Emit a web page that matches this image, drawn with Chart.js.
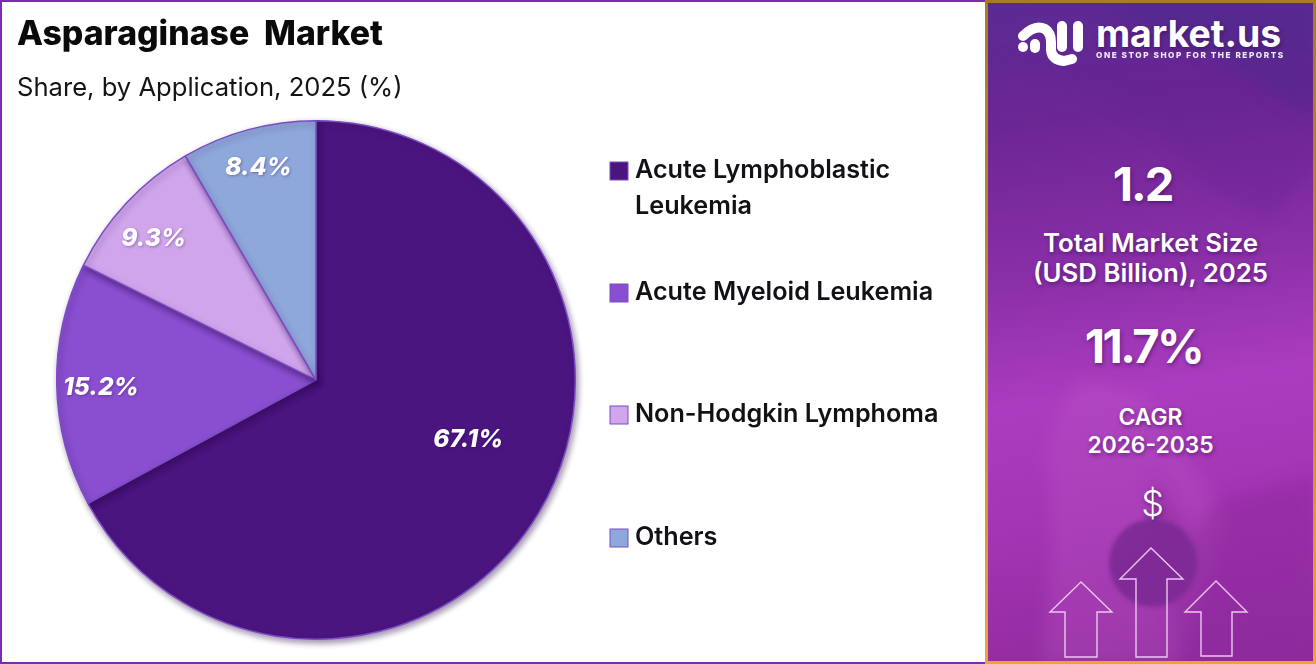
<!DOCTYPE html>
<html><head><meta charset="utf-8">
<script src="https://cdn.jsdelivr.net/npm/chart.js@4"></script>
<style>
html,body{margin:0;padding:0;background:#fff;overflow:hidden}
#wrap{position:relative;width:1316px;height:664px;overflow:hidden;font-family:Inter,sans-serif}
#left{position:absolute;left:0;top:0;width:985px;height:664px;box-sizing:border-box;border:2px solid #7a2bb0;border-right:none}
#cv{position:absolute;left:0;top:0;width:985px;height:664px}
#panel{position:absolute;left:985px;top:0;width:331px;height:664px;box-sizing:border-box;border:3px solid;border-image:linear-gradient(180deg,#a87c20,#c48a24 50%,#f2a32e) 1;overflow:hidden;color:#fff;
background:linear-gradient(172deg,#5a2a92 0%,#6c2694 18%,#8a2fa8 40%,#ab3cbf 58%,#a435b4 75%,#8e2a9c 100%)}
#panel svg.bg,#panel svg.fg{position:absolute;left:-3px;top:-3px;width:331px;height:664px}
.t{position:absolute;left:-3px;width:331px;text-align:center;white-space:nowrap;text-shadow:1px 2px 4px rgba(50,10,80,.55);line-height:1;transform:translateY(-50%)}
</style></head><body>
<div id="wrap">
<div id="left"></div>
<canvas id="cv" width="985" height="664"></canvas>
<div id="panel">
<svg class="bg" viewBox="985 0 331 664">
<defs><filter id="b"><feGaussianBlur stdDeviation="8"/></filter><filter id="b2"><feGaussianBlur stdDeviation="2"/></filter></defs>
<path d="M1090 0 L1316 0 L1316 120 L1220 60 Z" fill="#4c2a8c" opacity=".5" filter="url(#b)"/>
<path d="M985 60 Q1110 70 1210 190 L1270 220 L1316 170 L1316 60 Z" fill="#5e2090" opacity=".25" filter="url(#b)"/>
<path d="M1040 664 Q1060 520 1045 460 Q1060 390 1090 380 L1150 400 L1230 520 L1180 664 Z" fill="#c060c8" opacity=".25" filter="url(#b)"/>
<path d="M1150 470 L1195 540 L1215 500 L1316 475 L1316 664 L1180 664 Z" fill="#8f2a9e" opacity=".55" filter="url(#b)"/>
<circle cx="1153" cy="563" r="44" fill="#7e2a96" opacity=".95" filter="url(#b2)"/>
</svg>
<svg class="fg" viewBox="985 0 331 664" fill="none">
<g stroke="#fff" stroke-width="10" stroke-linecap="round" stroke-linejoin="round">
<path d="M1023 36 Q1035 24 1045 29 Q1051 33 1051 42 V50 Q1052 60 1064 61 L1072 59"/>
<path d="M1035 48 V44"/>
<path d="M1062 26 V47"/>
<path d="M1078 26 V47"/>
</g>
<circle cx="1023" cy="47" r="5" fill="#fff"/>
<g stroke="#eec6f2" stroke-width="1.4">
<path d="M1065 657 V612 H1050 L1081 582 L1112 612 H1097 V657 Z"/>
<path d="M1136 657 V579 H1120 L1151 548 L1183 579 H1167 V657 Z"/>
<path d="M1201 656 V612 H1185 L1216 581 L1247 612 H1232 V656 Z"/>
</g>
</svg>
<div class="t" style="left:108px;width:auto;top:31px;font-size:37.4px;font-weight:700">market.us</div>
<div class="t" style="left:108px;width:auto;top:52px;font-size:8.2px;font-weight:800;letter-spacing:1.55px;text-shadow:none;opacity:.9">ONE STOP SHOP FOR THE REPORTS</div>
<div class="t" style="left:-11px;top:180px;font-size:47px;font-weight:700;letter-spacing:-2px">1.2</div>
<div class="t" style="top:240px;font-size:25.8px;font-weight:600">Total Market Size</div>
<div class="t" style="top:270px;font-size:25.8px;font-weight:600">(USD Billion), 2025</div>
<div class="t" style="left:-10px;top:342px;font-size:47px;font-weight:700;letter-spacing:-2.5px">11.7%</div>
<div class="t" style="top:414px;font-size:22.8px;font-weight:600">CAGR</div>
<div class="t" style="top:442px;font-size:22.8px;font-weight:600">2026-2035</div>
<div class="t" style="left:-1px;top:500px;font-size:36px;font-weight:300">$</div>
</div>
</div>
<script>
const titleText = "Asparaginase  Market";
const subtitleText = "Share, by Application, 2025 (%)";
const categories = ["Acute Lymphoblastic Leukemia","Acute Myeloid Leukemia","Non-Hodgkin Lymphoma","Others"];
const legendLines = [["Acute Lymphoblastic","Leukemia"],["Acute Myeloid Leukemia"],["Non-Hodgkin Lymphoma"],["Others"]];
const shares = [67.1,15.2,9.3,8.4];
const sliceColors = ["#4b1580","#8a4fd0","#d0a5ec","#8fa8dc"];
const edgeColor = "#7b4cc4";
const labelRadial = [0.63,0.83,0.83,0.85];
const labelAngleShift = [-9.5,-1,-2,0];
const legendRows = [171,293,415,538];

const pieShadow = {
  id:'pieShadow',
  beforeDatasetsDraw(c){const x=c.ctx;x.save();x.shadowColor='rgba(40,10,70,.45)';x.shadowBlur=6;x.shadowOffsetX=2;x.shadowOffsetY=3;},
  afterDatasetsDraw(c){c.ctx.restore();}
};
const sliceLabels = {
  id:'sliceLabels',
  afterDatasetsDraw(c){
    const x=c.ctx,arcs=c.getDatasetMeta(0).data;
    x.save();x.font='italic 800 24.5px Inter, sans-serif';x.fillStyle='#fff';x.textAlign='center';x.textBaseline='middle';
    arcs.forEach((a,i)=>{
      const mid=(a.startAngle+a.endAngle)/2+labelAngleShift[i]*Math.PI/180,r=a.outerRadius*labelRadial[i];
      x.shadowColor='rgba(40,10,70,.35)';x.shadowBlur=3;x.shadowOffsetX=1;x.shadowOffsetY=1;
      x.fillText(shares[i].toFixed(1)+'%',a.x+Math.cos(mid)*r,a.y+Math.sin(mid)*r);
    });
    x.restore();
  }
};
const sideLegend = {
  id:'sideLegend',
  afterDraw(c){
    const x=c.ctx;x.save();x.textBaseline='middle';x.textAlign='left';
    legendLines.forEach((lines,i)=>{
      const y=legendRows[i];
      x.fillStyle=sliceColors[i];x.strokeStyle=edgeColor;x.lineWidth=1;
      x.fillRect(610,y-9,18,18);x.strokeRect(610,y-9,18,18);
      x.fillStyle='#141018';x.font='600 25.2px Inter, sans-serif';
      lines.forEach((t,k)=>x.fillText(t,635,y-1+k*36));
    });
    x.restore();
  }
};
new Chart(document.getElementById('cv'),{
  type:'pie',
  data:{labels:categories,datasets:[{data:shares,backgroundColor:sliceColors,borderColor:edgeColor,borderWidth:1.5,hoverOffset:0,offset:0}]},
  options:{
    responsive:false,animation:false,
    layout:{padding:{left:17,right:370,top:15,bottom:24}},
    plugins:{
      legend:{display:false},tooltip:{enabled:false},
      title:{display:true,text:titleText,align:'start',color:'#0a0a0a',font:{family:'Inter, sans-serif',size:33.8,weight:'800'},padding:{top:0,bottom:17}},
      subtitle:{display:true,text:subtitleText,align:'start',color:'#141414',font:{family:'Inter, sans-serif',size:25.6,weight:'400'},padding:{bottom:16.6}}
    }
  },
  plugins:[pieShadow,sliceLabels,sideLegend]
});
</script>
</body></html>
